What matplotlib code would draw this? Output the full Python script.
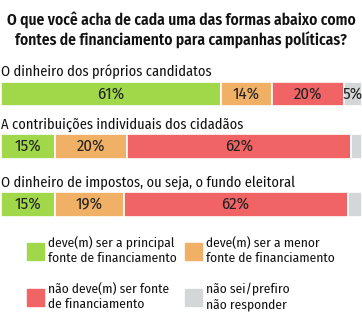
import matplotlib
matplotlib.use("Agg")
import matplotlib.pyplot as plt

# fonte estreita, parecida com a original
plt.rcParams["font.family"] = ["Fira Sans Condensed", "Roboto Condensed", "PT Sans Narrow", "DejaVu Sans"]

# dados
titulo = "O que você acha de cada uma das formas abaixo como\nfontes de financiamento para campanhas políticas?"
perguntas = ["O dinheiro dos próprios candidatos",
             "A contribuições individuais dos cidadãos",
             "O dinheiro de impostos, ou seja, o fundo eleitoral"]
principal = [61, 15, 15]
menor = [14, 20, 19]
nao_deve = [20, 62, 62]
nao_sei = [5, 3, 4]
categorias = ["deve(m) ser a principal\nfonte de financiamento",
              "deve(m) ser a menor\nfonte de financiamento",
              "não deve(m) ser fonte\nde financiamento",
              "não sei/prefiro\nnão responder"]
cores = ["#a0d84a", "#f0b066", "#f06466", "#d4d7d7"]

W, H = 362, 322
fig = plt.figure(figsize=(W / 100, H / 100), dpi=100)
ax = fig.add_axes([1 / W, 0, 1, 1])
ax.set_xlim(0, 100 * W / 361)
ax.set_ylim(H, 0)
ax.axis("off")

fig.text(0.5, 1 - 30 / H, titulo, ha="center", va="center", fontsize=11.2,
         fontweight="semibold", linespacing=1.3, color="#111111")

centros = [94, 146.5, 204.5]
series = [principal, menor, nao_deve, nao_sei]
for i, q in enumerate(perguntas):
    y = centros[i]
    ax.text(0, y - 22, q, ha="left", va="center", fontsize=10.4, color="#111111")
    esq = 0
    for j, s in enumerate(series):
        v = s[i]
        ax.barh(y, v, left=esq, height=24.5, color=cores[j], edgecolor="white", linewidth=1.2)
        if v >= 5:
            ax.text(esq + v / 2, y, f"{v}%", ha="center", va="center", fontsize=12, color="#222222")
        esq += v

# legenda
pos = [(27, 251), (185, 251), (27, 297), (185, 297)]
for (px, py), c, lab in zip(pos, cores, categorias):
    fig.patches.append(plt.Rectangle((px / W, 1 - (py + 8.5) / H), 17 / W, 17 / H,
                                     transform=fig.transFigure, color=c))
    fig.text((px + 21) / W, 1 - py / H, lab, ha="left", va="center", fontsize=9.6,
             linespacing=1.22, color="#111111")

fig.savefig("out.png", dpi=100)
